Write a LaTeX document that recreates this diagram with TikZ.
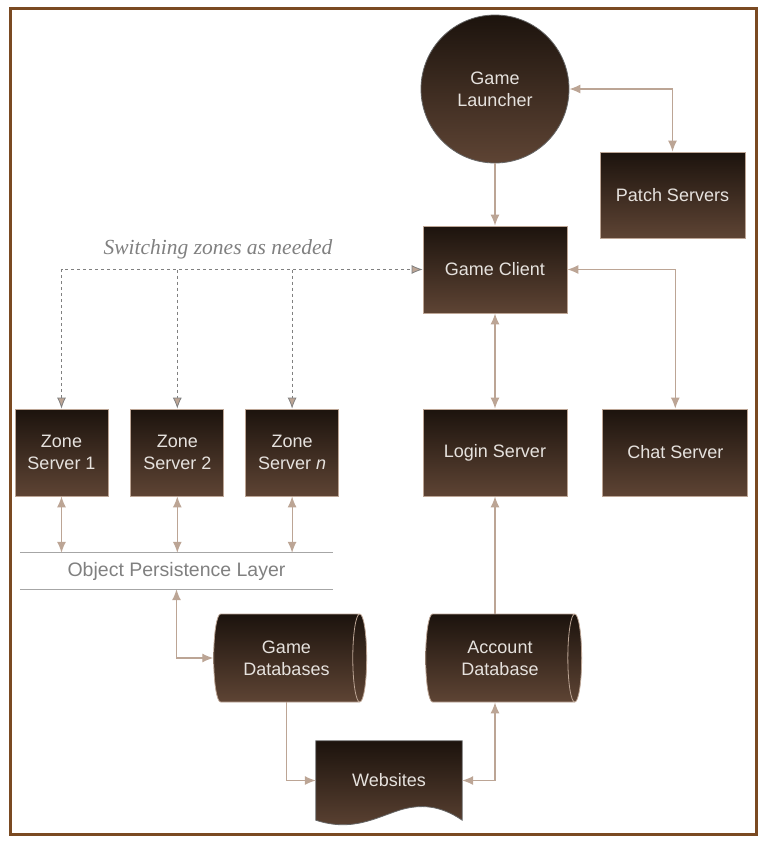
\documentclass[tikz,border=0pt]{standalone}
\usepackage{fontspec}
\setmainfont{Liberation Sans}
\newfontfamily\noteface{Liberation Serif}
\usetikzlibrary{positioning,shapes.geometric,arrows.meta}
\definecolor{dark}{HTML}{1C130D}
\definecolor{light}{HTML}{5E4434}
\definecolor{wire}{HTML}{BCA595}
\definecolor{frame}{HTML}{7A4A22}
\definecolor{txt}{HTML}{E6E2DE}
\tikzstyle{box}=[top color=dark, bottom color=light, draw=wire, line width=0.8pt,
        text=txt, font=\fontsize{18}{22}\selectfont, align=center, inner sep=0pt]
\tikzstyle{db}=[box, cylinder, shape aspect=0.4]
\tikzstyle{link}=[draw=wire, line width=1.2pt,
        >={Latex[length=11pt,width=9pt,fill=wire]}]
\tikzstyle{switch}=[draw=gray, line width=0.8pt, dash pattern=on 3pt off 3pt,
        >={Latex[length=11pt,width=9pt,fill=wire]}]

\begin{document}
\begin{tikzpicture}[x=1pt, y=-1pt]
        \useasboundingbox (0,0) rectangle (765,852);
        \draw[frame, line width=3pt] (10,8) rectangle (756,834);

        \node[box, circle, minimum size=148pt, draw=black!60] (0) at (495,89)
            {Game\\Launcher};
        \node[box, minimum width=145pt, minimum height=86pt] (1) at (672.5,195)
            {Patch Servers};
        \node[box, minimum width=144pt, minimum height=87pt] (2) at (495,269.5)
            {Game Client};
        \node[box, minimum width=144pt, minimum height=87pt] (3) at (495,452.5)
            {Login Server};
        \node[box, minimum width=145pt, minimum height=87pt, right=35pt of 3] (4)
            {Chat Server};

        \node[box, minimum width=93pt, minimum height=87pt] (5) at (61.5,452.5)
            {Zone\\Server 1};
        \node[box, minimum width=93pt, minimum height=87pt, right=22pt of 5] (6)
            {Zone\\Server 2};
        \node[box, minimum width=93pt, minimum height=87pt, right=21pt of 6] (7)
            {Zone\\Server \textit{n}};

        \node[minimum width=313pt, minimum height=36pt, inner sep=0pt,
            text=gray, font=\fontsize{19.5}{22}\selectfont] (8) at (176.5,571)
            {Object Persistence Layer};
        \draw[gray!70, line width=0.8pt] (8.north west) -- (8.north east);
        \draw[gray!70, line width=0.8pt] (8.south west) -- (8.south east);

        \node[db, minimum height=153pt, minimum width=88pt] (9) at (286.5,658)
            {Game\\Databases};
        \node[db, minimum height=156pt, minimum width=88pt] (10) at (500,658)
            {Account\\Database};

        \node[minimum width=146pt, minimum height=79pt, inner sep=0pt] (11)
            at (389,780.5) {};
        \shade[top color=dark, bottom color=light, draw=black!60, line width=0.8pt]
            (11.north west) -- (11.north east) -- (11.south east)
            .. controls (440,805) and (420,804) .. (400,810)
            .. controls (375,818) and (352,832) .. (11.south west) -- cycle;
        \node[text=txt, font=\fontsize{18}{22}\selectfont] at (11) {Websites};

        \node[text=gray, font=\noteface\itshape\fontsize{21.5}{24}\selectfont] (12)
            at (218,249) {Switching zones as needed};

        \draw[link, ->] (0) -- (2);
        \draw[link, <->] (0.east) -| (1.north);
        \draw[link, <->] (2.south) -- (3.north);
        \draw[link, <->] (2.east) -| (4.north);
        \draw[link, ->] (3.south |- 10.north) -- (3.south);
        \draw[link, <->] (11.east) -| (3.south |- 10.south);
        \draw[link, ->] (9.south) |- (11.west);
        \draw[link, <->] (9.west) -| (8.south);
        \foreach \z in {5,6,7}
            \draw[link, <->] (\z.south) -- (\z.south |- 8.north);

        \draw[switch, <->] (5.north) |- (2.west);
        \foreach \z in {6,7}
            \draw[switch, ->] (\z.north |- 2.west) -- (\z.north);
    \end{tikzpicture}
\end{document}
